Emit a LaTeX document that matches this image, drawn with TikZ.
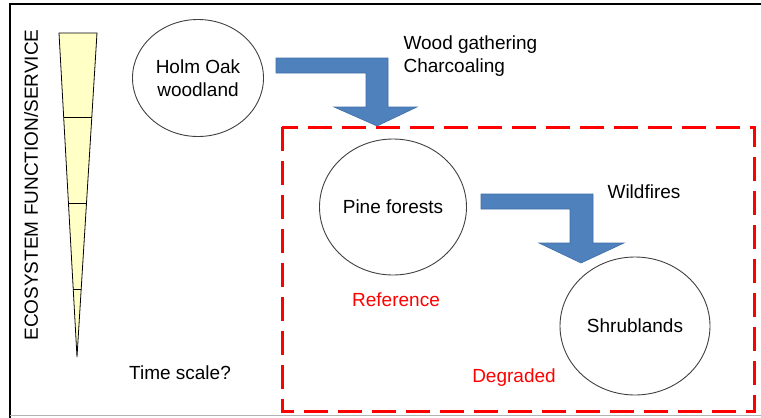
\documentclass[tikz,border=0pt]{standalone}
\usepackage{fontspec}
\setmainfont{Liberation Sans}
\usetikzlibrary{shapes.geometric,calc}
\definecolor{blockblue}{HTML}{4F81BD}
\definecolor{blockedge}{HTML}{3F6FA8}
\definecolor{wedge}{HTML}{FFFFC6}
\begin{document}
\begin{tikzpicture}[x=1pt, y=-1pt, font=\fontsize{19}{23}\selectfont, line join=miter,
  state/.style={ellipse, draw=black!75, line width=0.9, align=center, inner sep=0},
  block/.style={fill=blockblue, draw=blockedge, line width=0.6},
  redtext/.style={text=red}]
\useasboundingbox (0,0) rectangle (761,418);
% frame
\draw[line width=1.6] (10,418)--(10,4)--(761,4);
\draw[black!30] (10,415.5)--(761,415.5);
% wedge of ecosystem function
\coordinate (tl) at (59,33); \coordinate (tr) at (97,33); \coordinate (apex) at (77,357);
\draw[fill=wedge, line width=0.8] (tl)--(tr)--(apex)--cycle;
\foreach \t in {0.262,0.525,0.79}
  \draw[line width=0.8] ($(tl)!\t!(apex)$)--($(tr)!\t!(apex)$);
\node[rotate=90] (ylabel) at (31,185) {ECOSYSTEM FUNCTION/SERVICE};
\node (time) at (180,373) {Time scale?};
% states
\node[state, minimum width=131, minimum height=117] (holm) at (198,78) {Holm Oak\\woodland};
\node[state, minimum width=147, minimum height=136] (pine) at (393,207) {Pine forests};
\node[state, minimum width=150, minimum height=138] (shrub) at (635,326) {Shrublands};
% degraded region
\draw[red, line width=3, dash pattern=on 24 off 10] (282,127) rectangle (754,411);
\node[redtext] (ref) at (396,300) {Reference};
\node[redtext] (degr) at (514,378) {Degraded};
% transitions
\draw[block] (276,58)--(388,58)--(388,107)--(417,107)--(377,126)--(334,107)--(366,107)--(366,73)--(276,73)--cycle;
\node[anchor=west, align=left] (wood) at (400,56) {Wood gathering\\Charcoaling};
\draw[block] (481,194)--(593,194)--(593,243)--(624,243)--(581,263)--(539,243)--(570,243)--(570,209)--(481,209)--cycle;
\node (fire) at (644,192) {Wildfires};
\end{tikzpicture}
\end{document}
